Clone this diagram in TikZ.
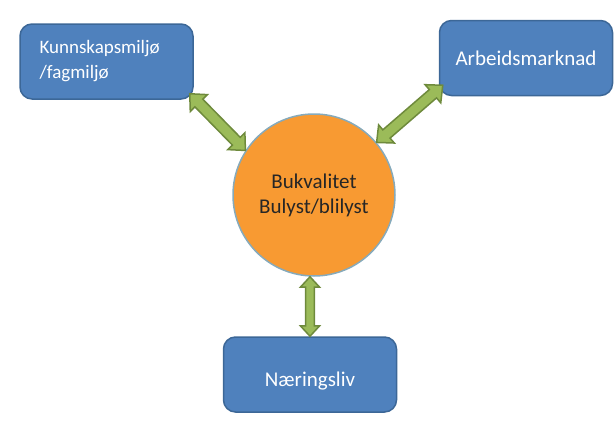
\documentclass[tikz,border=0pt]{standalone}
\usepackage{fontspec}
\setmainfont{Carlito}
\usepackage{tikz}
\usetikzlibrary{positioning,calc}
\definecolor{boxblue}{HTML}{4F81BD}
\definecolor{boxedge}{HTML}{3C6797}
\definecolor{bogul}{HTML}{F89A32}
\definecolor{boedge}{HTML}{86AABB}
\definecolor{pilgronn}{HTML}{9BBB59}
\definecolor{pilkant}{HTML}{6E8A3C}

\newcommand{\dblarrow}[3][1]{%
  \fill[pilgronn, draw=pilkant, line width=1.5pt, line join=miter]
    (#2) -- ($(#2)!#1*17.7pt!42.7:(#3)$) -- ($(#2)!#1*14.1pt!22.9:(#3)$)
    -- ($(#3)!#1*14.1pt!-22.9:(#2)$) -- ($(#3)!#1*17.7pt!-42.7:(#2)$)
    -- (#3) -- ($(#3)!#1*17.7pt!42.7:(#2)$) -- ($(#3)!#1*14.1pt!22.9:(#2)$)
    -- ($(#2)!#1*14.1pt!-22.9:(#3)$) -- ($(#2)!#1*17.7pt!-42.7:(#3)$) -- cycle;}

\begin{document}
\begin{tikzpicture}[x=1pt, y=-1pt,
    tekst/.style={font=\fontsize{21}{25}\selectfont},
    boks/.style={tekst, fill=boxblue, draw=boxedge, line width=1.5pt, rounded corners=12pt,
                 text=white, minimum width=173pt, minimum height=75pt, inner sep=0pt},
    sirkel/.style={tekst, circle, fill=bogul, draw=boedge, line width=1.5pt,
                   minimum size=162pt, inner sep=0pt, text=black!85, align=center}]
      \useasboundingbox (0,0) rectangle (614,421);

      \node[sirkel] (bo) at (314,195) {Bukvalitet\\Bulyst/blilyst};

      \node[boks, align=left, text width=134pt, font=\fontsize{19}{25}\selectfont] (kunn) at (106.5,61.5) {Kunnskapsmiljø\\/fagmiljø};
      \node[boks] (arb) at (526,58) {Arbeidsmarknad};
      \node[boks, text height=24pt, text depth=0pt] (naer) at (310,374.5) {Næringsliv};

      \coordinate (kunnpil) at ($(kunn.south east)+(-4,-6)$);
      \coordinate (arbpil) at ($(arb.south west)+(4,-11)$);
      \coordinate (bopil) at (bo.south -| naer.north);

      \dblarrow{kunnpil}{bo.147}
      \dblarrow{arbpil}{bo.40}
      \dblarrow[0.8]{naer.north}{bopil}
\end{tikzpicture}
\end{document}
